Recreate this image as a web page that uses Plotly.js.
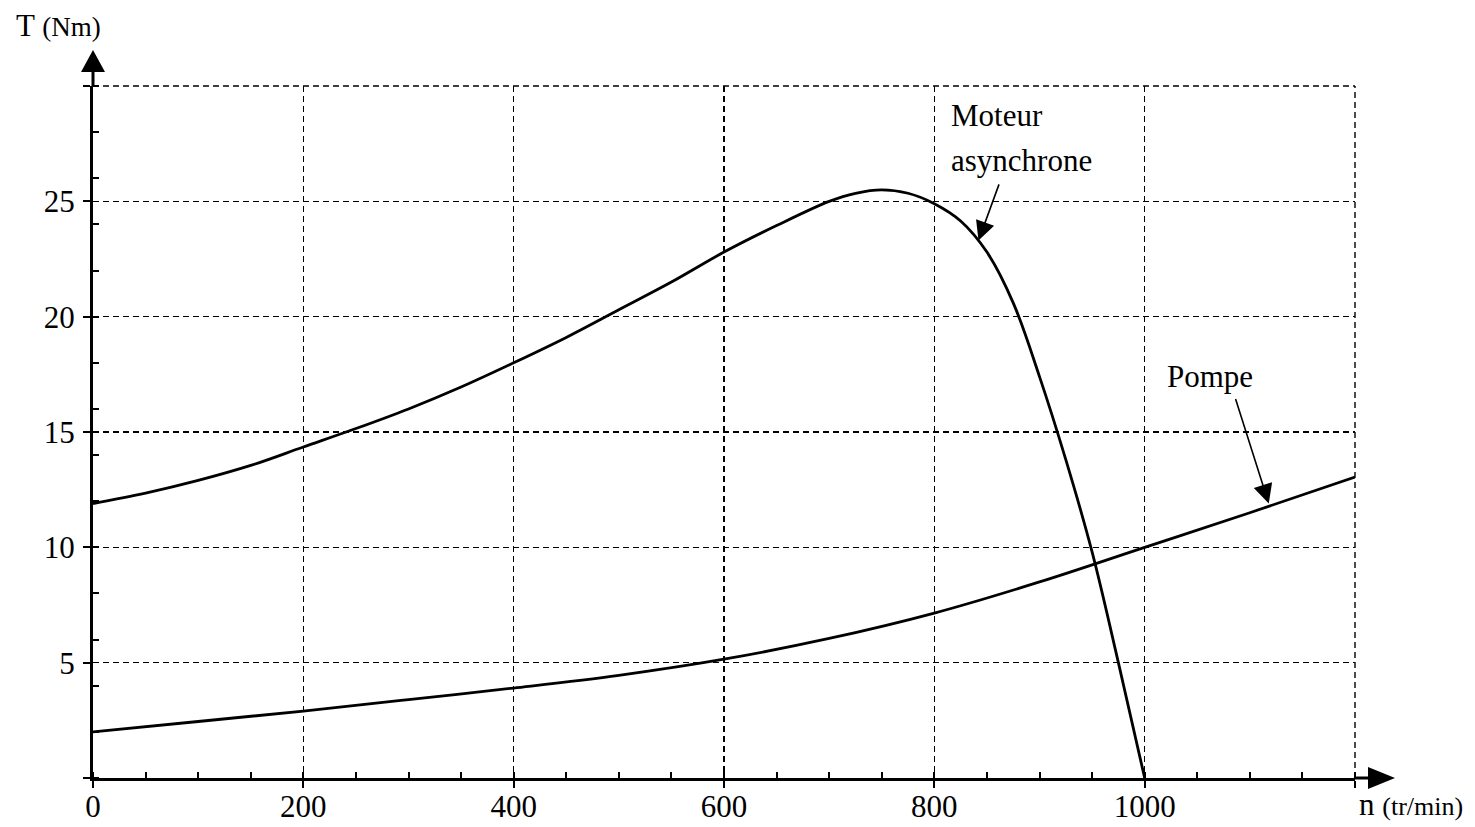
<!DOCTYPE html>
<html>
<head>
<meta charset="utf-8">
<script src="https://cdn.plot.ly/plotly-3.0.1.min.js"></script>
<style>html,body{margin:0;padding:0;background:#fff;}#chart{width:1475px;height:827px;}</style>
</head>
<body>
<div id="chart"></div>
<script>
// Motor (asynchronous) torque curve
const moteurN = [0,50,100,150,200,250,300,350,400,450,500,550,600,650,700,725,750,775,800,825,850,875,900,925,950,975,1000];
const moteurT = [11.9,12.35,12.9,13.55,14.35,15.15,16.0,16.95,18.0,19.1,20.3,21.5,22.8,23.95,25.0,25.35,25.5,25.35,24.9,24.15,22.8,20.6,17.4,13.8,9.8,5.0,0];
// Pump load torque curve
const pompeN = [0,100,200,300,400,500,600,700,800,900,1000,1100,1200];
const pompeT = [2.0,2.45,2.9,3.4,3.9,4.45,5.15,6.05,7.15,8.5,10.0,11.5,13.05];

const xTickVals = [0,200,400,600,800,1000,1200];
const xTickText = ['0','200','400','600','800','1000',''];
const yTickVals = [0,5,10,15,20,25,30];
const yTickText = ['','5','10','15','20','25',''];

const labelMoteur1 = 'Moteur';
const labelMoteur2 = 'asynchrone';
const labelPompe = 'Pompe';
const yTitle = 'T <span style="font-size:27px">(Nm)</span>';
const xTitle = 'n <span style="font-size:26px">(tr/min)</span>';

const serif = 'Liberation Serif, Times New Roman, serif';

const traces = [
  {x: moteurN, y: moteurT, mode: 'lines', line: {color: '#000', width: 2.8, shape: 'spline', smoothing: 1.0}, hoverinfo: 'skip', showlegend: false},
  {x: pompeN, y: pompeT, mode: 'lines', line: {color: '#000', width: 2.8, shape: 'spline', smoothing: 1.0}, hoverinfo: 'skip', showlegend: false}
];

const gridStyle = {gridcolor: '#000', gridwidth: 1.4, griddash: '6px,4px'};

const layout = {
  width: 1475, height: 827,
  margin: {l: 93, r: 120, t: 86, b: 49},
  paper_bgcolor: '#fff', plot_bgcolor: '#fff',
  showlegend: false,
  xaxis: Object.assign({
    range: [0, 1200], tickmode: 'array', tickvals: xTickVals, ticktext: xTickText,
    showline: true, linecolor: '#000', linewidth: 3, zeroline: false,
    ticks: 'outside', ticklen: 7, tickwidth: 2, tickcolor: '#000',
    minor: {dtick: 50, tick0: 0, ticks: 'inside', ticklen: 6, tickwidth: 2, tickcolor: '#000', showgrid: false},
    tickfont: {family: serif, size: 31, color: '#000'},
    ticklabelstandoff: -8, fixedrange: true
  }, gridStyle),
  yaxis: Object.assign({
    range: [0, 30], tickmode: 'array', tickvals: yTickVals, ticktext: yTickText,
    showline: true, linecolor: '#000', linewidth: 3, zeroline: false,
    ticks: 'outside', ticklen: 7, tickwidth: 2, tickcolor: '#000',
    minor: {dtick: 2, tick0: 0, ticks: 'inside', ticklen: 6, tickwidth: 2, tickcolor: '#000', showgrid: false},
    tickfont: {family: serif, size: 31, color: '#000'},
    ticklabelstandoff: 2, fixedrange: true
  }, gridStyle),
  shapes: [
    // dashed border grid lines at the range ends
    {type: 'line', xref: 'paper', yref: 'paper', x0: 0, x1: 1, y0: 1, y1: 1, line: {color: '#000', width: 1.4, dash: '6px,4px'}},
    {type: 'line', xref: 'paper', yref: 'paper', x0: 1, x1: 1, y0: 0, y1: 1, line: {color: '#000', width: 1.4, dash: '6px,4px'}},
    // axis arrows
    {type: 'path', xref: 'paper', yref: 'paper', xsizemode: 'pixel', ysizemode: 'pixel', xanchor: 0, yanchor: 1,
     path: 'M-1.5,0 L-1.5,14 L-12,14 L0,36 L12,14 L1.5,14 L1.5,0 Z', fillcolor: '#000', line: {width: 0}},
    {type: 'path', xref: 'paper', yref: 'paper', xsizemode: 'pixel', ysizemode: 'pixel', xanchor: 1, yanchor: 0,
     path: 'M0,-1.5 L13,-1.5 L13,-11 L40,0 L13,11 L13,1.5 L0,1.5 Z', fillcolor: '#000', line: {width: 0}}
  ],
  annotations: [
    {x: 814, y: 28.7, xref: 'x', yref: 'y', text: labelMoteur1, showarrow: false, xanchor: 'left', yanchor: 'middle', font: {family: serif, size: 31, color: '#000'}},
    {x: 814, y: 26.77, xref: 'x', yref: 'y', text: labelMoteur2, showarrow: false, xanchor: 'left', yanchor: 'middle', font: {family: serif, size: 31, color: '#000'}},
    {x: 1019, y: 17.4, xref: 'x', yref: 'y', text: labelPompe, showarrow: false, xanchor: 'left', yanchor: 'middle', font: {family: serif, size: 31, color: '#000'}},
    {x: 842, y: 23.3, ax: 862, ay: 25.8, xref: 'x', yref: 'y', axref: 'x', ayref: 'y', text: '', showarrow: true, arrowhead: 2, arrowsize: 2.4, arrowwidth: 1.6, arrowcolor: '#000'},
    {x: 1118, y: 11.9, ax: 1086, ay: 16.5, xref: 'x', yref: 'y', axref: 'x', ayref: 'y', text: '', showarrow: true, arrowhead: 2, arrowsize: 2.4, arrowwidth: 1.6, arrowcolor: '#000'},
    {x: -0.0625, y: 1.088, xref: 'paper', yref: 'paper', text: yTitle, showarrow: false, xanchor: 'left', yanchor: 'middle', font: {family: serif, size: 31, color: '#000'}},
    {x: 1.0016, y: -0.039, xref: 'paper', yref: 'paper', text: xTitle, showarrow: false, xanchor: 'left', yanchor: 'middle', font: {family: serif, size: 31, color: '#000'}}
  ]
};

Plotly.newPlot('chart', traces, layout, {displayModeBar: false, staticPlot: true});
</script>
</body>
</html>
